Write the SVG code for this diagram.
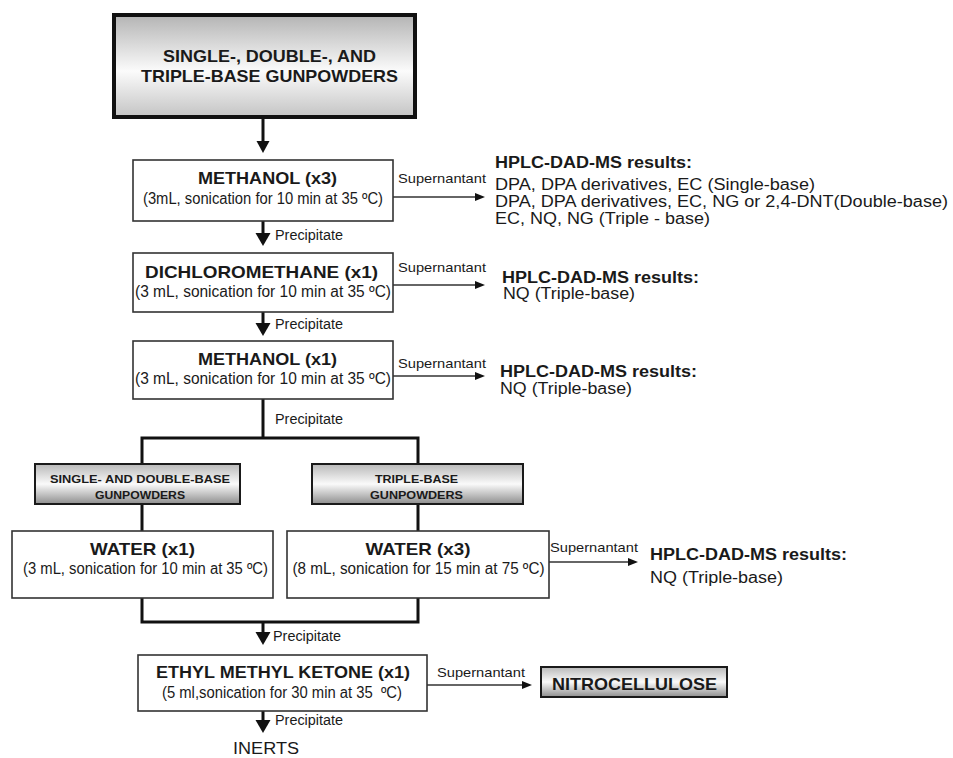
<svg xmlns="http://www.w3.org/2000/svg" width="953" height="758" viewBox="0 0 953 758">
<defs>
<linearGradient id="g1" x1="0" y1="0" x2="0" y2="1">
<stop offset="0" stop-color="#b4b4b4"/>
<stop offset="0.55" stop-color="#fbfbfb"/>
<stop offset="1" stop-color="#c4c4c4"/>
</linearGradient>
<linearGradient id="g2" x1="0" y1="0" x2="0" y2="1">
<stop offset="0" stop-color="#b8b8b8"/>
<stop offset="0.5" stop-color="#fafafa"/>
<stop offset="1" stop-color="#8e8e8e"/>
</linearGradient>
</defs>
<style>
text{font-family:"Liberation Sans",Arial,sans-serif;fill:#1a1a1a}
.t{font-weight:bold;font-size:17px;text-anchor:middle}
.s{font-size:16px;text-anchor:middle}
.sm{font-weight:bold;font-size:11px;text-anchor:middle}
.lab{font-size:13px}
.pr{font-size:14px}
.r{font-size:16px}
.rb{font-size:16px;font-weight:bold}
.box{fill:#fff;stroke:#333;stroke-width:1.6}
.gbox{fill:url(#g2);stroke:#1a1a1a;stroke-width:2}
.thick{stroke:#111;stroke-width:3;fill:none}
.thin{stroke:#333;stroke-width:1.4;fill:none}
.head{fill:#111}
</style>
<rect width="953" height="758" fill="#fff"/>

<g id="connectors">
<line class="thick" x1="263" y1="117" x2="263" y2="143"/>
<polygon class="head" points="256.5,141 269.5,141 263,153"/>
<line class="thick" x1="263" y1="221" x2="263" y2="235"/>
<polygon class="head" points="255.5,233 270.5,233 263,246"/>
<line class="thick" x1="263" y1="312" x2="263" y2="325"/>
<polygon class="head" points="255.5,323 270.5,323 263,336"/>
<polyline class="thick" points="263,399 263,438"/>
<polyline class="thick" points="142,464 142,438 418,438 418,464"/>
<line class="thick" x1="142" y1="504" x2="142" y2="531"/>
<line class="thick" x1="418" y1="504" x2="418" y2="531"/>
<polyline class="thick" points="142,598 142,622 418,622 418,598"/>
<line class="thick" x1="263" y1="622" x2="263" y2="634"/>
<polygon class="head" points="255.5,632 270.5,632 263,645"/>
<line class="thick" x1="263" y1="711" x2="263" y2="722"/>
<polygon class="head" points="255.5,720 270.5,720 263,733"/>
<line class="thin" x1="393" y1="197" x2="477" y2="197"/>
<polygon class="head" points="475,193 485,197 475,201"/>
<line class="thin" x1="393" y1="285" x2="477" y2="285"/>
<polygon class="head" points="475,281 485,285 475,289"/>
<line class="thin" x1="393" y1="376" x2="477" y2="376"/>
<polygon class="head" points="475,372 485,376 475,380"/>
<line class="thin" x1="549" y1="562" x2="630" y2="562"/>
<polygon class="head" points="628,558 638,562 628,566"/>
<line class="thin" x1="427" y1="685" x2="524" y2="685"/>
<polygon class="head" points="522,681 532,685 522,689"/>
<text class="lab" x="398" y="183" textLength="88" lengthAdjust="spacingAndGlyphs">Supernantant</text>
<text class="lab" x="398" y="272" textLength="88" lengthAdjust="spacingAndGlyphs">Supernantant</text>
<text class="lab" x="398" y="368" textLength="88" lengthAdjust="spacingAndGlyphs">Supernantant</text>
<text class="lab" x="550" y="552" textLength="88" lengthAdjust="spacingAndGlyphs">Supernantant</text>
<text class="lab" x="437" y="677" textLength="88" lengthAdjust="spacingAndGlyphs">Supernantant</text>
<text class="pr" x="275" y="240" textLength="68" lengthAdjust="spacingAndGlyphs">Precipitate</text>
<text class="pr" x="275" y="329" textLength="68" lengthAdjust="spacingAndGlyphs">Precipitate</text>
<text class="pr" x="275" y="424" textLength="68" lengthAdjust="spacingAndGlyphs">Precipitate</text>
<text class="pr" x="273" y="641" textLength="68" lengthAdjust="spacingAndGlyphs">Precipitate</text>
<text class="pr" x="275" y="725" textLength="68" lengthAdjust="spacingAndGlyphs">Precipitate</text>
</g>

<g id="n-start">
<rect x="114" y="15" width="301" height="102" fill="url(#g1)" stroke="#111" stroke-width="4"/>
<text class="t" x="269.5" y="62" textLength="213" lengthAdjust="spacingAndGlyphs">SINGLE-, DOUBLE-, AND</text>
<text class="t" x="269.5" y="82" textLength="257" lengthAdjust="spacingAndGlyphs">TRIPLE-BASE GUNPOWDERS</text>
</g>

<g id="n-methanol3">
<rect class="box" x="133" y="160" width="260" height="61"/>
<text class="t" x="267.5" y="184" textLength="139" lengthAdjust="spacingAndGlyphs">METHANOL (x3)</text>
<text class="s" x="263" y="204" textLength="240" lengthAdjust="spacingAndGlyphs">(3mL, sonication for 10 min at 35 ºC)</text>
</g>

<g id="n-res1">
<text class="rb" x="495" y="168" textLength="197" lengthAdjust="spacingAndGlyphs">HPLC-DAD-MS results:</text>
<text class="r" x="495" y="190" textLength="320" lengthAdjust="spacingAndGlyphs">DPA, DPA derivatives, EC (Single-base)</text>
<text class="r" x="495" y="207" textLength="453" lengthAdjust="spacingAndGlyphs">DPA, DPA derivatives, EC, NG or 2,4-DNT(Double-base)</text>
<text class="r" x="495" y="224" textLength="215" lengthAdjust="spacingAndGlyphs">EC, NQ, NG (Triple - base)</text>
</g>

<g id="n-dcm">
<rect class="box" x="133" y="253" width="260" height="59"/>
<text class="t" x="261.5" y="278" textLength="233" lengthAdjust="spacingAndGlyphs">DICHLOROMETHANE (x1)</text>
<text class="s" x="263" y="297" textLength="256" lengthAdjust="spacingAndGlyphs">(3 mL, sonication for 10 min at 35 ºC)</text>
</g>

<g id="n-res2">
<text class="rb" x="502" y="283" textLength="197" lengthAdjust="spacingAndGlyphs">HPLC-DAD-MS results:</text>
<text class="r" x="503" y="299" textLength="132" lengthAdjust="spacingAndGlyphs">NQ (Triple-base)</text>
</g>

<g id="n-methanol1">
<rect class="box" x="133" y="341" width="260" height="58"/>
<text class="t" x="267.5" y="365" textLength="139" lengthAdjust="spacingAndGlyphs">METHANOL (x1)</text>
<text class="s" x="263" y="384" textLength="256" lengthAdjust="spacingAndGlyphs">(3 mL, sonication for 10 min at 35 ºC)</text>
</g>

<g id="n-res3">
<text class="rb" x="500" y="377" textLength="197" lengthAdjust="spacingAndGlyphs">HPLC-DAD-MS results:</text>
<text class="r" x="500" y="394" textLength="132" lengthAdjust="spacingAndGlyphs">NQ (Triple-base)</text>
</g>

<g id="n-sdb">
<rect class="gbox" x="35" y="464" width="205" height="40"/>
<text class="sm" x="140" y="483" textLength="180" lengthAdjust="spacingAndGlyphs">SINGLE- AND DOUBLE-BASE</text>
<text class="sm" x="140" y="499" textLength="90" lengthAdjust="spacingAndGlyphs">GUNPOWDERS</text>
</g>

<g id="n-tb">
<rect class="gbox" x="312" y="464" width="211" height="40"/>
<text class="sm" x="416.5" y="483" textLength="83" lengthAdjust="spacingAndGlyphs">TRIPLE-BASE</text>
<text class="sm" x="416.5" y="499" textLength="93" lengthAdjust="spacingAndGlyphs">GUNPOWDERS</text>
</g>

<g id="n-water1">
<rect class="box" x="12" y="531" width="261" height="67"/>
<text class="t" x="142.5" y="555" textLength="105" lengthAdjust="spacingAndGlyphs">WATER (x1)</text>
<text class="s" x="145.5" y="574" textLength="245" lengthAdjust="spacingAndGlyphs">(3 mL, sonication for 10 min at 35 ºC)</text>
</g>

<g id="n-water3">
<rect class="box" x="287" y="531" width="262" height="67"/>
<text class="t" x="418" y="555" textLength="105" lengthAdjust="spacingAndGlyphs">WATER (x3)</text>
<text class="s" x="418.5" y="574" textLength="252" lengthAdjust="spacingAndGlyphs">(8 mL, sonication for 15 min at 75 ºC)</text>
</g>

<g id="n-res4">
<text class="rb" x="650" y="560" textLength="197" lengthAdjust="spacingAndGlyphs">HPLC-DAD-MS results:</text>
<text class="r" x="650" y="583" textLength="133" lengthAdjust="spacingAndGlyphs">NQ (Triple-base)</text>
</g>

<g id="n-emk">
<rect class="box" x="138" y="655" width="289" height="56"/>
<text class="t" x="283" y="678" textLength="254" lengthAdjust="spacingAndGlyphs">ETHYL METHYL KETONE (x1)</text>
<text class="s" x="282" y="698" textLength="240" lengthAdjust="spacingAndGlyphs" xml:space="preserve">(5 ml,sonication for 30 min at 35  ºC)</text>
</g>

<g id="n-nc">
<rect class="gbox" x="541" y="667" width="186" height="30"/>
<text class="t" x="634.5" y="690" textLength="165" lengthAdjust="spacingAndGlyphs">NITROCELLULOSE</text>
</g>

<g id="n-inerts">
<text x="266" y="754" font-size="16" text-anchor="middle" textLength="66" lengthAdjust="spacingAndGlyphs">INERTS</text>
</g>
</svg>
